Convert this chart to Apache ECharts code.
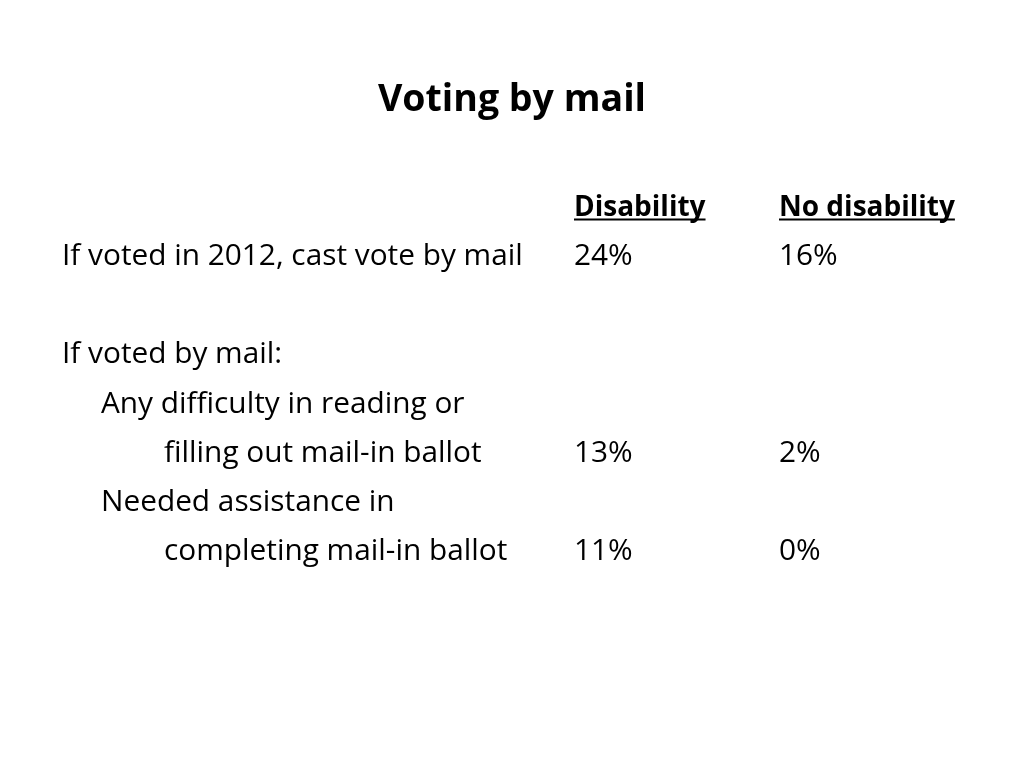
<!DOCTYPE html>
<html><head><meta charset="utf-8">
<script src="https://cdn.jsdelivr.net/npm/echarts@6/dist/echarts.min.js"></script>
<style>html,body{margin:0;padding:0;background:#fff}#c{width:1024px;height:768px}</style>
</head><body><div id="c"></div>
<script>
var titleText = 'Voting by mail';
var columns = ['Disability', 'No disability'];
var rowLabels = ['', 'If voted in 2012, cast vote by mail', '', 'If voted by mail:', 'Any difficulty in reading or', 'filling out mail-in ballot', 'Needed assistance in', 'completing mail-in ballot'];
var rowIndent = [0, 0, 0, 0, 1, 2, 1, 2];
var disability = [null, 24, null, null, null, 13, null, 11];
var noDisability = [null, 16, null, null, null, 2, null, 0];

var FONT = '"Open Sans"';
var indentPx = [0, 39, 102];
var rowKeys = rowLabels.map(function (_, i) { return 'r' + i; });

// fit font sizes to the reference text widths
var ctx = document.createElement('canvas').getContext('2d');
ctx.font = '100px ' + FONT;
var FS = Math.round(100 * 461 / ctx.measureText(rowLabels[1]).width * 10) / 10;
ctx.font = 'bold 100px ' + FONT;
var TFS = Math.round(100 * 268 / ctx.measureText(titleText).width * 10) / 10;
var HFS = Math.round(100 * 176 / ctx.measureText(columns[1]).width * 10) / 10;

function valueData(colIdx, vals) {
  var out = [];
  vals.forEach(function (v, i) { if (v !== null) out.push({ value: [colIdx, i], txt: v + '%' }); });
  return out;
}
var headerData = columns.map(function (c, j) { return { value: [j, 0], txt: c }; });
function lbl(bold) {
  return { show: true, position: 'inside', align: 'left', verticalAlign: 'middle', fontFamily: FONT, fontSize: bold ? HFS : FS, fontWeight: bold ? 'bold' : 'normal', color: '#000', formatter: function (p) { return p.data.txt; } };
}

var chart = echarts.init(document.getElementById('c'));
var opt = {
  animation: false,
  backgroundColor: '#fff',
  title: { text: titleText, left: 'center', top: 100 - TFS * 0.62, textStyle: { fontFamily: FONT, fontWeight: 'bold', fontSize: TFS, color: '#000' } },
  grid: { left: 574, width: 205, top: 183, height: 393, containLabel: false },
  xAxis: { type: 'category', data: columns, boundaryGap: false, show: false },
  yAxis: {
    type: 'category', data: rowKeys, inverse: true, boundaryGap: true,
    axisLine: { show: false }, axisTick: { show: false }, splitLine: { show: false },
    axisLabel: {
      margin: 512, align: 'left', fontFamily: FONT, fontSize: FS, color: '#000',
      formatter: function (v, i) { var t = rowLabels[i]; return t ? '{l' + rowIndent[i] + '|' + t + '}' : ''; },
      rich: {
        l0: { fontFamily: FONT, fontSize: FS, color: '#000', padding: [0, 0, 0, indentPx[0]] },
        l1: { fontFamily: FONT, fontSize: FS, color: '#000', padding: [0, 0, 0, indentPx[1]] },
        l2: { fontFamily: FONT, fontSize: FS, color: '#000', padding: [0, 0, 0, indentPx[2]] }
      }
    }
  },
  series: [
    { type: 'scatter', name: 'header', symbolSize: 0, itemStyle: { opacity: 1 }, data: headerData, label: lbl(true) },
    { type: 'scatter', name: columns[0], symbolSize: 0, itemStyle: { opacity: 1 }, data: valueData(0, disability), label: lbl(false) },
    { type: 'scatter', name: columns[1], symbolSize: 0, itemStyle: { opacity: 1 }, data: valueData(1, noDisability), label: lbl(false) }
  ]
};
chart.setOption(opt);

// underline the column headers
ctx.font = 'bold ' + HFS + 'px ' + FONT;
var lines = columns.map(function (c, j) {
  var p = chart.convertToPixel({ gridIndex: 0 }, [j, 0]);
  var w = ctx.measureText(c).width;
  var y = 219.5;
  return { type: 'line', shape: { x1: p[0], y1: y, x2: p[0] + w, y2: y }, style: { stroke: '#000', lineWidth: 2 } };
});
chart.setOption({ graphic: lines });
</script></body></html>
